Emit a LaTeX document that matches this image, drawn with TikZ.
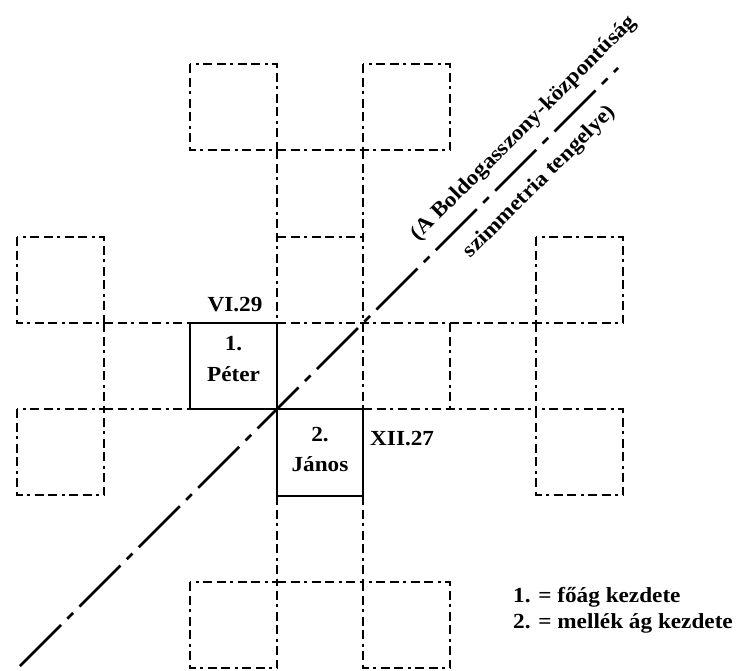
\documentclass[tikz,border=0pt]{standalone}
\usepackage{fontspec}
\setmainfont{Liberation Serif}[FakeStretch=1.08]
\begin{document}
\begin{tikzpicture}[x=1pt,y=-1pt,
  gridline/.style={line width=2.6pt, dash pattern=on 9pt off 4.5pt on 9pt off 4.5pt on 3pt off 4.5pt},
  solidline/.style={line width=2.4pt},
  axisline/.style={line width=2.5pt, dash pattern=on 58pt off 9pt on 8pt off 9pt},
  lbl/.style={font=\fontsize{21.5}{25}\selectfont\bfseries, inner sep=0pt}]
\useasboundingbox (0,0) rectangle (747,670);
% dashed outer squares
\foreach \a/\b in {190/64, 363/64, 17/237, 536/237, 17/409, 536/409, 190/582, 363/582}
  \draw[gridline] (\a,\b) rectangle ++(87,86);
% inner dashed lines
\draw[gridline] (277,150) -- (363,150);
\draw[gridline] (277,237) -- (363,237);
\draw[gridline] (104,323) -- (190,323);
\draw[gridline] (277,323) -- (536,323);
\draw[gridline] (104,409) -- (190,409);
\draw[gridline] (363,409) -- (536,409);
\draw[gridline] (277,582) -- (363,582);
\draw[gridline] (277,150) -- (277,323);
\draw[gridline] (363,150) -- (363,409);
\draw[gridline] (277,496) -- (277,582);
\draw[gridline] (363,496) -- (363,582);
\draw[gridline] (104,323) -- (104,409);
\draw[gridline] (536,323) -- (536,409);
\draw[gridline] (450,323) -- (450,409);
% solid squares
\draw[solidline] (190,323) rectangle (277,409);
\draw[solidline] (277,409) rectangle (363,496);
% symmetry axis
\coordinate (axA) at (20,666);
\coordinate (axB) at (618,68);
\draw[axisline] (axA) -- (axB);
% labels
\node[lbl, anchor=base] (vi) at (235,311) {VI.29};
\node[lbl, anchor=base] (n1) at (233.5,350) {1.};
\node[lbl, anchor=base] (peter) at (233.5,381) {Péter};
\node[lbl, anchor=base] (n2) at (320,441) {2.};
\node[lbl, anchor=base] (janos) at (320,471) {János};
\node[lbl, anchor=base west] (xii) at (370,445) {XII.27};
\node[lbl, anchor=base west] (leg1) at (513,602) {1. = főág kezdete};
\node[lbl, anchor=base west] (leg2) at (513,628) {2. = mellék ág kezdete};
\node[lbl, rotate=45] (t1) at (524,128.5) {(A Boldogasszony-központúság};
\node[lbl, rotate=45] (t2) at (540,182) {szimmetria tengelye)};
\end{tikzpicture}
\end{document}
